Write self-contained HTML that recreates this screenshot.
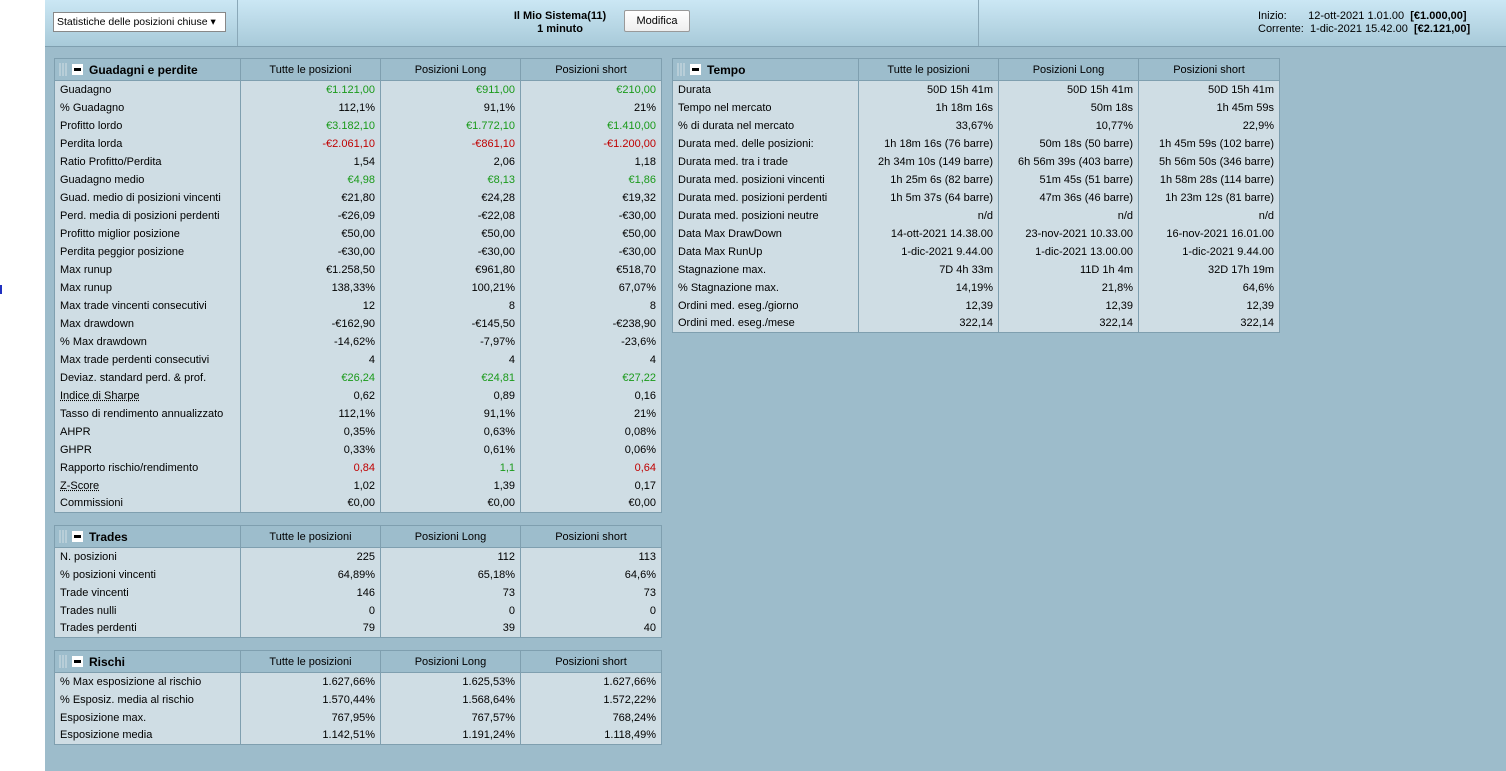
<!DOCTYPE html><html><head><meta charset="utf-8"><style>
*{margin:0;padding:0;box-sizing:border-box}
body{width:1506px;height:771px;background:#9dbccb;font-family:"Liberation Sans",Arial,sans-serif;font-size:11px;color:#000;position:relative;overflow:hidden}
#white{position:absolute;left:0;top:0;width:45px;height:771px;background:#fff}
#mark{position:absolute;left:0;top:285px;width:2px;height:9px;background:#2030c0}
#hdr{position:absolute;left:45px;top:0;width:1461px;height:47px;background:linear-gradient(#cbe7f4,#a8cad9);border-bottom:1px solid #7f9faf}
.vd{position:absolute;top:0;width:1px;height:46px;background:#8aa8b8}
.sel{position:absolute;left:53px;top:12px;width:173px;height:20px;background:#fff;border:1px solid #888;padding:3px 3px;font-size:10.5px;white-space:nowrap;overflow:hidden}
.btn{position:absolute;left:624px;top:10px;width:66px;height:22px;background:linear-gradient(#fff,#eee);border:1px solid #999;text-align:center;line-height:20px;border-radius:2px}
table{position:absolute;border-collapse:collapse;table-layout:fixed;background:#cfdde4}
td,th{border-left:1px solid #7f9faf;border-right:1px solid #7f9faf;height:18px;padding:0 5px;white-space:nowrap;overflow:hidden;font-weight:normal}
table{border:1px solid #7f9faf}
th{background:#9dbdcc;height:22px;text-align:center;border-bottom:1px solid #7f9faf}
th.t{text-align:left;font-weight:bold;font-size:12px;padding-left:4px}
td.r{text-align:right}
.g{color:#1a9a1a}.rd{color:#c00000}
.grip{display:inline-block;width:9px;height:13px;vertical-align:-2px;background:repeating-linear-gradient(90deg,#b8ced8 0 2px,transparent 2px 3px);margin-right:4px}
.mn{display:inline-block;width:11px;height:11px;background:#fff;vertical-align:-1px;margin-right:6px;position:relative}
.mn:after{content:"";position:absolute;left:2px;top:4px;width:7px;height:3px;background:#000}
</style></head><body>
<div id="white"></div><div id="mark"></div>
<div id="hdr">
<div class="vd" style="left:192px"></div><div class="vd" style="left:933px"></div>
</div>
<div class="sel">Statistiche delle posizioni chiuse &#9662;</div>
<div style="position:absolute;left:500px;top:10px;width:120px;text-align:center;font-weight:bold;line-height:13px">Il Mio Sistema(11)<br>1 minuto</div>
<div class="btn">Modifica</div>
<div style="position:absolute;left:1258px;top:10px;line-height:13px;white-space:pre">Inizio:       12-ott-2021 1.01.00  <b>[€1.000,00]</b>
Corrente:  1-dic-2021 15.42.00  <b>[€2.121,00]</b></div>

<table style="left:54px;top:58px;width:607px">
<colgroup><col style="width:186px"><col style="width:140px"><col style="width:140px"><col style="width:141px"></colgroup>
<tr><th class="t"><span class="grip"></span><span class="mn"></span>Guadagni e perdite</th><th>Tutte le posizioni</th><th>Posizioni Long</th><th>Posizioni short</th></tr>
<tr><td>Guadagno</td><td class="r g">€1.121,00</td><td class="r g">€911,00</td><td class="r g">€210,00</td></tr>
<tr><td>% Guadagno</td><td class="r">112,1%</td><td class="r">91,1%</td><td class="r">21%</td></tr>
<tr><td>Profitto lordo</td><td class="r g">€3.182,10</td><td class="r g">€1.772,10</td><td class="r g">€1.410,00</td></tr>
<tr><td>Perdita lorda</td><td class="r rd">-€2.061,10</td><td class="r rd">-€861,10</td><td class="r rd">-€1.200,00</td></tr>
<tr><td>Ratio Profitto/Perdita</td><td class="r">1,54</td><td class="r">2,06</td><td class="r">1,18</td></tr>
<tr><td>Guadagno medio</td><td class="r g">€4,98</td><td class="r g">€8,13</td><td class="r g">€1,86</td></tr>
<tr><td>Guad. medio di posizioni vincenti</td><td class="r">€21,80</td><td class="r">€24,28</td><td class="r">€19,32</td></tr>
<tr><td>Perd. media di posizioni perdenti</td><td class="r">-€26,09</td><td class="r">-€22,08</td><td class="r">-€30,00</td></tr>
<tr><td>Profitto miglior posizione</td><td class="r">€50,00</td><td class="r">€50,00</td><td class="r">€50,00</td></tr>
<tr><td>Perdita peggior posizione</td><td class="r">-€30,00</td><td class="r">-€30,00</td><td class="r">-€30,00</td></tr>
<tr><td>Max runup</td><td class="r">€1.258,50</td><td class="r">€961,80</td><td class="r">€518,70</td></tr>
<tr><td>Max runup</td><td class="r">138,33%</td><td class="r">100,21%</td><td class="r">67,07%</td></tr>
<tr><td>Max trade vincenti consecutivi</td><td class="r">12</td><td class="r">8</td><td class="r">8</td></tr>
<tr><td>Max drawdown</td><td class="r">-€162,90</td><td class="r">-€145,50</td><td class="r">-€238,90</td></tr>
<tr><td>% Max drawdown</td><td class="r">-14,62%</td><td class="r">-7,97%</td><td class="r">-23,6%</td></tr>
<tr><td>Max trade perdenti consecutivi</td><td class="r">4</td><td class="r">4</td><td class="r">4</td></tr>
<tr><td>Deviaz. standard perd. &amp; prof.</td><td class="r g">€26,24</td><td class="r g">€24,81</td><td class="r g">€27,22</td></tr>
<tr><td><u style="text-decoration-style:dotted">Indice di Sharpe</u></td><td class="r">0,62</td><td class="r">0,89</td><td class="r">0,16</td></tr>
<tr><td>Tasso di rendimento annualizzato</td><td class="r">112,1%</td><td class="r">91,1%</td><td class="r">21%</td></tr>
<tr><td>AHPR</td><td class="r">0,35%</td><td class="r">0,63%</td><td class="r">0,08%</td></tr>
<tr><td>GHPR</td><td class="r">0,33%</td><td class="r">0,61%</td><td class="r">0,06%</td></tr>
<tr><td>Rapporto rischio/rendimento</td><td class="r rd">0,84</td><td class="r g">1,1</td><td class="r rd">0,64</td></tr>
<tr><td><u style="text-decoration-style:dotted">Z-Score</u></td><td class="r">1,02</td><td class="r">1,39</td><td class="r">0,17</td></tr>
<tr><td>Commissioni</td><td class="r">€0,00</td><td class="r">€0,00</td><td class="r">€0,00</td></tr>
</table>

<table style="left:54px;top:525px;width:607px">
<colgroup><col style="width:186px"><col style="width:140px"><col style="width:140px"><col style="width:141px"></colgroup>
<tr><th class="t"><span class="grip"></span><span class="mn"></span>Trades</th><th>Tutte le posizioni</th><th>Posizioni Long</th><th>Posizioni short</th></tr>
<tr><td>N. posizioni</td><td class="r">225</td><td class="r">112</td><td class="r">113</td></tr>
<tr><td>% posizioni vincenti</td><td class="r">64,89%</td><td class="r">65,18%</td><td class="r">64,6%</td></tr>
<tr><td>Trade vincenti</td><td class="r">146</td><td class="r">73</td><td class="r">73</td></tr>
<tr><td>Trades nulli</td><td class="r">0</td><td class="r">0</td><td class="r">0</td></tr>
<tr><td>Trades perdenti</td><td class="r">79</td><td class="r">39</td><td class="r">40</td></tr>
</table>

<table style="left:54px;top:650px;width:607px">
<colgroup><col style="width:186px"><col style="width:140px"><col style="width:140px"><col style="width:141px"></colgroup>
<tr><th class="t"><span class="grip"></span><span class="mn"></span>Rischi</th><th>Tutte le posizioni</th><th>Posizioni Long</th><th>Posizioni short</th></tr>
<tr><td>% Max esposizione al rischio</td><td class="r">1.627,66%</td><td class="r">1.625,53%</td><td class="r">1.627,66%</td></tr>
<tr><td>% Esposiz. media al rischio</td><td class="r">1.570,44%</td><td class="r">1.568,64%</td><td class="r">1.572,22%</td></tr>
<tr><td>Esposizione max.</td><td class="r">767,95%</td><td class="r">767,57%</td><td class="r">768,24%</td></tr>
<tr><td>Esposizione media</td><td class="r">1.142,51%</td><td class="r">1.191,24%</td><td class="r">1.118,49%</td></tr>
</table>

<table style="left:672px;top:58px;width:607px">
<colgroup><col style="width:186px"><col style="width:140px"><col style="width:140px"><col style="width:141px"></colgroup>
<tr><th class="t"><span class="grip"></span><span class="mn"></span>Tempo</th><th>Tutte le posizioni</th><th>Posizioni Long</th><th>Posizioni short</th></tr>
<tr><td>Durata</td><td class="r">50D 15h 41m</td><td class="r">50D 15h 41m</td><td class="r">50D 15h 41m</td></tr>
<tr><td>Tempo nel mercato</td><td class="r">1h 18m 16s</td><td class="r">50m 18s</td><td class="r">1h 45m 59s</td></tr>
<tr><td>% di durata nel mercato</td><td class="r">33,67%</td><td class="r">10,77%</td><td class="r">22,9%</td></tr>
<tr><td>Durata med. delle posizioni:</td><td class="r">1h 18m 16s (76 barre)</td><td class="r">50m 18s (50 barre)</td><td class="r">1h 45m 59s (102 barre)</td></tr>
<tr><td>Durata med. tra i trade</td><td class="r">2h 34m 10s (149 barre)</td><td class="r">6h 56m 39s (403 barre)</td><td class="r">5h 56m 50s (346 barre)</td></tr>
<tr><td>Durata med. posizioni vincenti</td><td class="r">1h 25m 6s (82 barre)</td><td class="r">51m 45s (51 barre)</td><td class="r">1h 58m 28s (114 barre)</td></tr>
<tr><td>Durata med. posizioni perdenti</td><td class="r">1h 5m 37s (64 barre)</td><td class="r">47m 36s (46 barre)</td><td class="r">1h 23m 12s (81 barre)</td></tr>
<tr><td>Durata med. posizioni neutre</td><td class="r">n/d</td><td class="r">n/d</td><td class="r">n/d</td></tr>
<tr><td>Data Max DrawDown</td><td class="r">14-ott-2021 14.38.00</td><td class="r">23-nov-2021 10.33.00</td><td class="r">16-nov-2021 16.01.00</td></tr>
<tr><td>Data Max RunUp</td><td class="r">1-dic-2021 9.44.00</td><td class="r">1-dic-2021 13.00.00</td><td class="r">1-dic-2021 9.44.00</td></tr>
<tr><td>Stagnazione max.</td><td class="r">7D 4h 33m</td><td class="r">11D 1h 4m</td><td class="r">32D 17h 19m</td></tr>
<tr><td>% Stagnazione max.</td><td class="r">14,19%</td><td class="r">21,8%</td><td class="r">64,6%</td></tr>
<tr><td>Ordini med. eseg./giorno</td><td class="r">12,39</td><td class="r">12,39</td><td class="r">12,39</td></tr>
<tr><td>Ordini med. eseg./mese</td><td class="r">322,14</td><td class="r">322,14</td><td class="r">322,14</td></tr>
</table>
</body></html>
